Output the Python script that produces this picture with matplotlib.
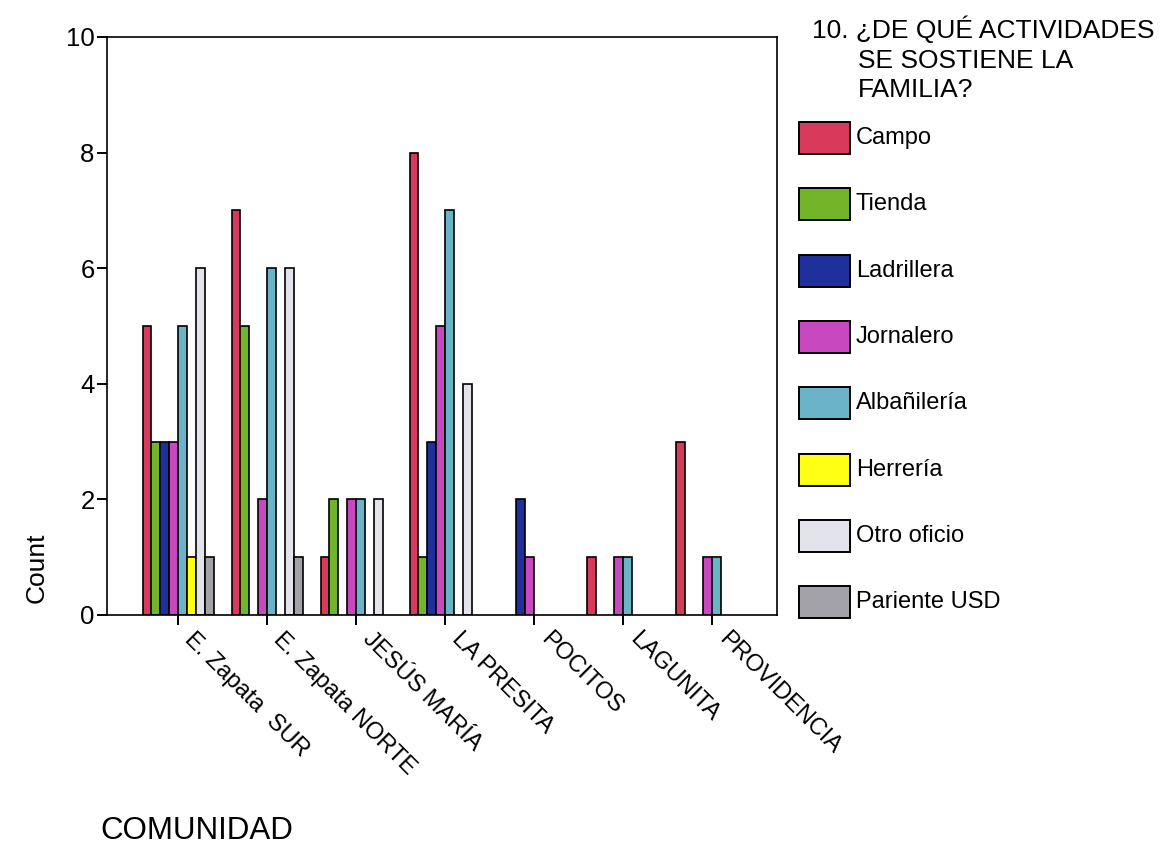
import matplotlib
matplotlib.use("Agg")
import matplotlib.pyplot as plt
from matplotlib.patches import Rectangle
from matplotlib.transforms import ScaledTranslation
import numpy as np

plt.rcParams['font.family'] = ['Liberation Sans', 'DejaVu Sans']

communities = ["E. Zapata  SUR", "E. Zapata NORTE", "JESÚS MARÍA", "LA PRESITA",
               "POCITOS", "LAGUNITA", "PROVIDENCIA"]
activities = ["Campo", "Tienda", "Ladrillera", "Jornalero", "Albañilería",
              "Herrería", "Otro oficio", "Pariente USD"]

campo       = [5, 7, 1, 8, 0, 1, 3]
tienda      = [3, 5, 2, 1, 0, 0, 0]
ladrillera  = [3, 0, 0, 3, 2, 0, 0]
jornalero   = [3, 2, 2, 5, 1, 1, 1]
albanileria = [5, 6, 2, 7, 0, 1, 1]
herreria    = [1, 0, 0, 0, 0, 0, 0]
otro_oficio = [6, 6, 2, 4, 0, 0, 0]
pariente    = [1, 1, 0, 0, 0, 0, 0]

series = [campo, tienda, ladrillera, jornalero, albanileria, herreria, otro_oficio, pariente]
colors = ["#D83A5C", "#72B52A", "#1F2F9C", "#C848BF", "#6BB3C6", "#FFFF14", "#E3E3EB", "#A2A2A8"]

W, H = 1162, 844
fig = plt.figure(figsize=(W / 100, H / 100), dpi=100)

def fx(px):
    return px / W

def fy(py):
    return 1 - py / H

ax_l, ax_r, ax_t, ax_b = 107, 777, 37, 615
ax = fig.add_axes([fx(ax_l), fy(ax_b), fx(ax_r - ax_l), fy(ax_t) - fy(ax_b)])

x = np.arange(len(communities))
bw = 0.1
for i, (vals, col) in enumerate(zip(series, colors)):
    v = np.array(vals, dtype=float)
    mask = v > 0
    ax.bar(x[mask] + (i - 3.5) * bw, v[mask], width=bw, color=col,
           edgecolor="black", linewidth=1.2, zorder=2)

ax.set_xlim(-0.8, 6.73)
ax.set_ylim(0, 10)
ax.set_yticks([0, 2, 4, 6, 8, 10])
ax.set_yticklabels(["0", "2", "4", "6", "8", "10"], fontsize=18.5)
ax.set_xticks(x)
ax.set_xticklabels([])
ax.tick_params(axis="both", direction="out", length=7, width=1.4, color="black", pad=2)
for s in ax.spines.values():
    s.set_linewidth(1.2)

# rotated category labels
off = ScaledTranslation(10 / 100, -21 / 100, fig.dpi_scale_trans)
for xi, name in zip(x, communities):
    ax.text(xi, 0, name, transform=ax.get_xaxis_transform() + off,
            rotation=-45, rotation_mode="anchor", ha="left", va="center",
            fontsize=17, color="black")

fig.text(fx(37), fy(568), "Count", rotation=90, ha="center", va="center", fontsize=19)
fig.text(fx(100), fy(831), "COMUNIDAD", ha="left", va="center", fontsize=22.5)

# legend title
fig.text(fx(812), fy(38), "10. ¿DE QUÉ ACTIVIDADES", ha="left", va="baseline", fontsize=19)
fig.text(fx(858), fy(68), "SE SOSTIENE LA", ha="left", va="baseline", fontsize=19)
fig.text(fx(858), fy(97), "FAMILIA?", ha="left", va="baseline", fontsize=19)

# legend entries
for i, (name, col) in enumerate(zip(activities, colors)):
    cy = 138 + 66.3 * i
    fig.patches.append(Rectangle((fx(799), fy(cy + 16)), fx(51), fy(cy - 16) - fy(cy + 16),
                                 transform=fig.transFigure, facecolor=col,
                                 edgecolor="black", linewidth=1.4))
    fig.text(fx(856), fy(cy), name, ha="left", va="center", fontsize=17)

fig.savefig("out.png", dpi=100)
